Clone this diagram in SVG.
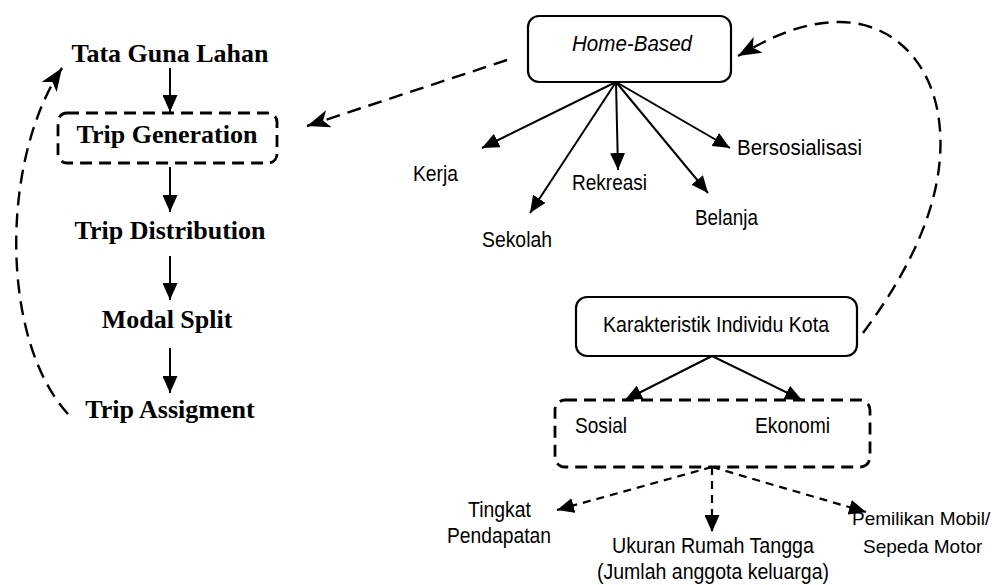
<svg xmlns="http://www.w3.org/2000/svg" width="998" height="585" viewBox="0 0 998 585">
<style>
.serif{font-family:"Liberation Serif","Times New Roman",serif;font-weight:bold;font-size:26px;fill:#000;text-anchor:middle}
.sans{font-family:"Liberation Sans",Arial,sans-serif;font-size:22px;fill:#000}
.small{font-size:19px}
.box{fill:#fff;stroke:#000;stroke-width:2.2}
.dbox{fill:none;stroke:#000;stroke-width:2.8;stroke-dasharray:12 7}
.solid{fill:none;stroke:#000;stroke-width:2;marker-end:url(#tri)}
.dash{fill:none;stroke:#000;stroke-width:2.2;stroke-dasharray:8 6;marker-end:url(#tri)}
.ldash{fill:none;stroke:#000;stroke-width:2.4;stroke-dasharray:14 8;marker-end:url(#stealth)}
</style>
<defs>
<marker id="tri" viewBox="0 0 17 15" refX="17" refY="7.5" markerWidth="17" markerHeight="15" markerUnits="userSpaceOnUse" orient="auto">
<path d="M0,0 L17,7.5 L0,15 z" fill="#000"/>
</marker>
<marker id="stealth" viewBox="0 0 23 18" refX="23" refY="9" markerWidth="23" markerHeight="18" markerUnits="userSpaceOnUse" orient="auto">
<path d="M0,0 L23,9 L0,18 L6,9 z" fill="#000"/>
</marker>
</defs>
<rect width="998" height="585" fill="#fff"/>

<g id="connectors">
<line class="solid" x1="170" y1="68" x2="170" y2="112"/>
<line class="solid" x1="170" y1="167" x2="170" y2="212"/>
<line class="solid" x1="170" y1="256" x2="170" y2="300"/>
<line class="solid" x1="170" y1="348" x2="170" y2="393"/>
<path class="ldash" d="M68 414 C0 340, 0 160, 62 68"/>
<line class="ldash" x1="507" y1="60" x2="307" y2="126"/>
<path class="ldash" d="M863 333 C910 270, 945 200, 940 130 C935 60, 890 22, 840 22 C800 22, 770 38, 738 56"/>
<line class="solid" x1="616" y1="82" x2="482" y2="148"/>
<line class="solid" x1="616" y1="82" x2="530" y2="213"/>
<line class="solid" x1="616" y1="82" x2="618" y2="170"/>
<line class="solid" x1="616" y1="82" x2="708" y2="193"/>
<line class="solid" x1="616" y1="82" x2="730" y2="148"/>
<line class="solid" x1="712" y1="356" x2="625" y2="400"/>
<line class="solid" x1="712" y1="356" x2="802" y2="400"/>
<line class="dash" x1="712" y1="467" x2="557" y2="510"/>
<line class="dash" x1="712" y1="467" x2="712" y2="532"/>
<line class="dash" x1="712" y1="467" x2="866" y2="512"/>
</g>

<g id="tata-guna-lahan"><text class="serif" x="170" y="62">Tata Guna Lahan</text></g>
<g id="trip-generation">
<rect class="dbox" x="58" y="113" width="219" height="50" rx="9"/>
<text class="serif" x="167" y="143">Trip Generation</text>
</g>
<g id="trip-distribution"><text class="serif" x="170" y="239">Trip Distribution</text></g>
<g id="modal-split"><text class="serif" x="167" y="328">Modal Split</text></g>
<g id="trip-assigment"><text class="serif" x="170" y="418">Trip Assigment</text></g>

<g id="home-based">
<rect class="box" x="528" y="16" width="203" height="66" rx="11"/>
<text class="sans" x="572" y="51" font-style="italic" textLength="120" lengthAdjust="spacingAndGlyphs">Home-Based</text>
</g>
<g id="kerja"><text class="sans" x="413" y="181" textLength="45" lengthAdjust="spacingAndGlyphs">Kerja</text></g>
<g id="sekolah"><text class="sans" x="482" y="247" textLength="70" lengthAdjust="spacingAndGlyphs">Sekolah</text></g>
<g id="rekreasi"><text class="sans" x="572" y="190" textLength="75" lengthAdjust="spacingAndGlyphs">Rekreasi</text></g>
<g id="belanja"><text class="sans" x="695" y="225" textLength="63" lengthAdjust="spacingAndGlyphs">Belanja</text></g>
<g id="bersosialisasi"><text class="sans" x="737" y="155" textLength="125" lengthAdjust="spacingAndGlyphs">Bersosialisasi</text></g>

<g id="karakteristik">
<rect class="box" x="576" y="297" width="281" height="59" rx="11"/>
<text class="sans" x="603" y="332" textLength="226" lengthAdjust="spacingAndGlyphs">Karakteristik Individu Kota</text>
</g>
<g id="sosial-ekonomi">
<rect class="dbox" x="555" y="400" width="315" height="67" rx="10"/>
<text class="sans" x="575" y="433" textLength="52" lengthAdjust="spacingAndGlyphs">Sosial</text>
<text class="sans" x="755" y="433" textLength="75" lengthAdjust="spacingAndGlyphs">Ekonomi</text>
</g>
<g id="tingkat-pendapatan">
<text class="sans" x="468" y="517" textLength="63" lengthAdjust="spacingAndGlyphs">Tingkat</text>
<text class="sans" x="447" y="543" textLength="104" lengthAdjust="spacingAndGlyphs">Pendapatan</text>
</g>
<g id="ukuran-rumah-tangga">
<text class="sans" x="612" y="553" textLength="202" lengthAdjust="spacingAndGlyphs">Ukuran Rumah Tangga</text>
<text class="sans" x="597" y="579" textLength="232" lengthAdjust="spacingAndGlyphs">(Jumlah anggota keluarga)</text>
</g>
<g id="pemilikan-mobil">
<text class="sans small" x="852" y="525">Pemilikan Mobil/</text>
<text class="sans small" x="863" y="553">Sepeda Motor</text>
</g>
</svg>
